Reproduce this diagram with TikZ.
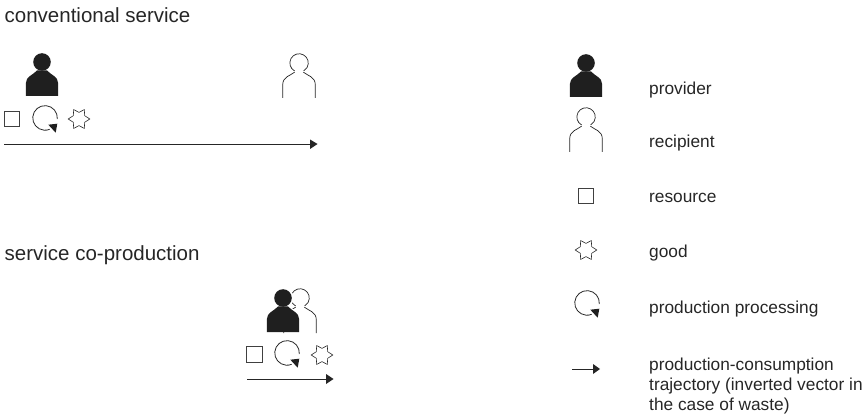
\documentclass[tikz,border=0pt]{standalone}
\usepackage{fontspec}
\setmainfont{Liberation Sans}
\tikzset{
  x=1pt,y=-1pt,
  ink/.style={draw=black!85,line width=0.8pt},
  headline/.style={anchor=base west,inner sep=0pt,font=\fontsize{20.5}{24}\selectfont,text=black!85},
  legendtext/.style={anchor=base west,inner sep=0pt,font=\fontsize{17.3}{20}\selectfont,text=black!85,align=left},
  flow/.style={draw=black!85,line width=0.9pt},
  flowtip/.style={fill=black!85,draw=none},
  provider/.pic={
    \fill[black!88] (0,0) circle[radius=8.8];
    \fill[black!88] (-16.1,34) -- (-16.1,21) .. controls (-16.1,14.5) and (-9,13) .. (-5,8.5) -- (5,8.5) .. controls (9,13) and (16.1,14.5) .. (16.1,21) -- (16.1,34) -- cycle;
  },
  recipient/.pic={
    \draw[ink,line width=0.7pt] (-4.4,9.2) .. controls (-9,13) and (-16.3,13.5) .. (-16.3,22) -- (-16.3,35);
    \draw[ink,line width=0.7pt] (-4.4,8) arc[start angle=119,end angle=421,radius=9.2];
    \draw[ink,line width=0.7pt] (4.4,9.2) .. controls (9,13) and (16.3,13.5) .. (16.3,22) -- (16.3,35);
  },
  resourcebox/.pic={\draw[draw=black!75,line width=0.7pt] (-7.8,-7.8) rectangle (7.8,7.8);},
  goodstar/.pic={
    \draw[draw=black!85,line width=0.6pt,line join=miter]
      (10.8,0) -- (5.7,3.3) -- (5.3,9.4) -- (0,6.6) -- (-5.3,9.4) -- (-5.7,3.3) -- (-10.8,0)
      -- (-5.7,-3.3) -- (-5.3,-9.4) -- (0,-6.6) -- (5.3,-9.4) -- (5.7,-3.3) -- cycle;
  },
  processing/.pic={
    \draw[ink] (12.3,1) arc[start angle=5,end angle=-292,radius=12.3];
    \fill[black!88] (3.3,6.7) -- (12.3,5.7) -- (10.7,14.7) -- cycle;
  },
}
\begin{document}
\begin{tikzpicture}
\useasboundingbox (0,0) rectangle (868,414);
% headings
\node[headline] (h1) at (4.5,23) {conventional service};
\node[headline] (h2) at (4.5,261) {service co-production};
% conventional service
\pic at (42,62) {provider};
\pic at (299,63) {recipient};
\pic at (12,119) {resourcebox};
\pic at (45,118) {processing};
\pic at (79,119) {goodstar};
\coordinate (a1s) at (4,144); \coordinate (a1e) at (310,144);
\draw[flow] (a1s) -- (a1e);
\fill[flowtip] (310,139.5) -- (317.5,144) -- (310,149) -- cycle;
% co-production
\pic at (300,298) {recipient};
\fill[white] (283,298) circle[radius=10.6];
\fill[white] (290,309) rectangle (301,333);
\pic at (283,298) {provider};
\pic at (254.5,354.5) {resourcebox};
\pic at (287,353) {processing};
\pic at (322,355) {goodstar};
\coordinate (a2s) at (247,379); \coordinate (a2e) at (326,379);
\draw[flow] (a2s) -- (a2e);
\fill[flowtip] (326,374) -- (333.5,379) -- (326,384) -- cycle;
% legend
\pic at (586,63) {provider};
\pic at (586,117) {recipient};
\pic at (586,196) {resourcebox};
\pic at (586,250) {goodstar};
\pic at (587,303) {processing};
\coordinate (a3s) at (572,369); \coordinate (a3e) at (593,369);
\draw[flow] (a3s) -- (a3e);
\fill[flowtip] (593,364) -- (600,369) -- (593,374) -- cycle;
\node[legendtext] (l1) at (649,95) {provider};
\node[legendtext] (l2) at (649,148) {recipient};
\node[legendtext] (l3) at (649,203) {resource};
\node[legendtext] (l4) at (649,258) {good};
\node[legendtext] (l5) at (649,313) {production processing};
\node[legendtext,anchor=north west] (l6) at (649,357.4) {production-consumption\\trajectory (inverted vector in\\the case of waste)};
\end{tikzpicture}
\end{document}
